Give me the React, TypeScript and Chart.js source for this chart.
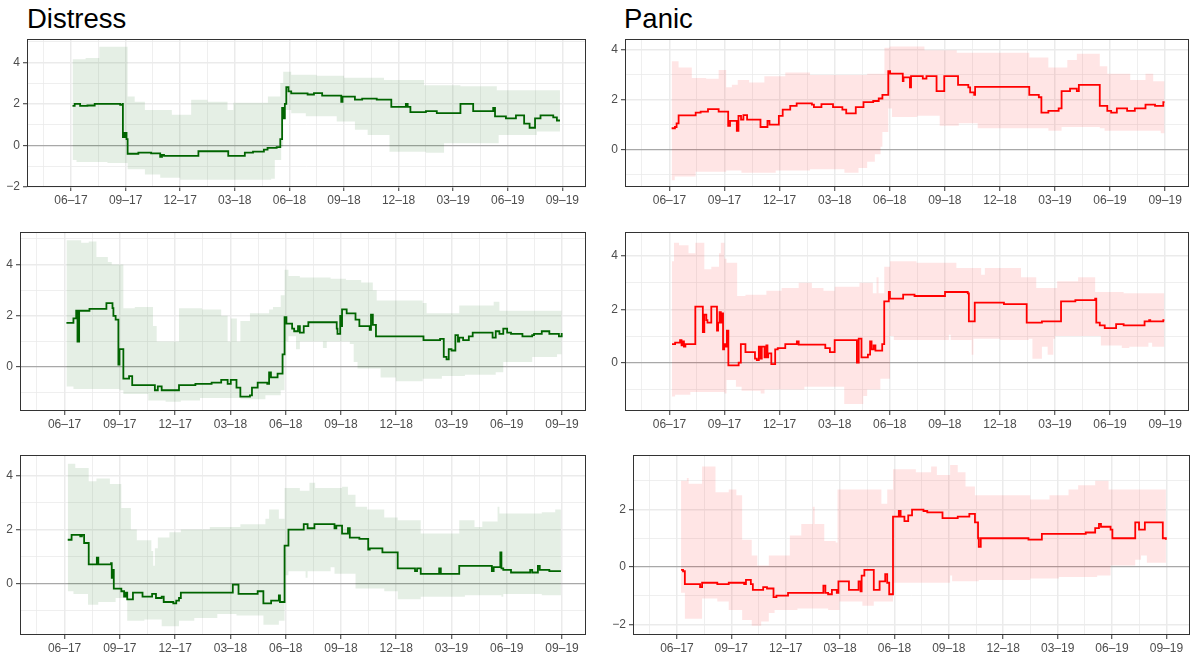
import React, { useEffect, useRef } from "react";
import { Chart, registerables } from "chart.js";

Chart.register(...registerables);
Chart.defaults.font.family = "'Liberation Sans', Arial, Helvetica, sans-serif";

type Pt = [number, number];

// x values are months since June 2017
const xTickMonths = [0, 3, 6, 9, 12, 15, 18, 21, 24, 27];
const xTickLabels = ["06–17", "09–17", "12–17", "03–18", "06–18", "09–18", "12–18", "03–19", "06–19", "09–19"];
const columnTitles = ["Distress", "Panic"];

// ---------- Distress, row 1 ----------
const distressLine1: Pt[] = [[0.08,1.9],[0.2,2.0],[0.5,1.9],[0.9,1.92],[1.3,2.0],[2.7,1.95],[2.83,2.0],[2.85,0.4],[2.95,0.6],[3.05,0.3],[3.11,-0.4],[3.5,-0.4],[3.7,-0.35],[4.4,-0.38],[4.9,-0.55],[5.0,-0.45],[5.11,-0.5],[7.0,-0.28],[8.64,-0.5],[9.55,-0.35],[10.0,-0.3],[10.6,-0.2],[10.8,-0.12],[11.3,-0.08],[11.5,0.3],[11.6,1.8],[11.65,1.3],[11.75,2.0],[11.83,2.8],[11.95,2.6],[12.1,2.5],[13.0,2.45],[13.35,2.52],[13.8,2.4],[14.85,2.1],[14.92,2.35],[15.6,2.2],[16.0,2.25],[16.8,2.2],[17.6,1.85],[18.4,2.0],[18.5,1.85],[18.65,1.6],[19.5,1.65],[20.1,1.55],[21.4,2.0],[22.1,1.65],[23.2,1.8],[23.3,1.4],[23.9,1.3],[24.45,1.45],[24.9,1.05],[25.2,0.85],[25.5,1.3],[25.8,1.45],[26.5,1.35],[26.7,1.2],[26.87,1.2]];
const distressUpper1: Pt[] = [[0.08,4.14],[0.8,4.2],[1.55,4.75],[3.11,2.35],[3.5,2.1],[4.06,1.7],[5.54,1.47],[6.6,2.2],[7.5,2.1],[8.6,1.7],[8.92,2.05],[10.82,2.35],[11.5,3.0],[11.66,3.55],[12.1,3.4],[13.5,3.35],[15.0,3.25],[17.2,3.15],[19.4,2.9],[21.4,2.85],[23.4,2.65],[26.87,2.6]];
const distressLower1: Pt[] = [[0.08,-0.7],[0.3,-0.8],[2.0,-0.85],[3.11,-1.15],[4.06,-1.4],[4.9,-1.55],[6.0,-1.65],[11.0,-1.6],[11.2,-0.7],[11.55,-0.05],[11.66,1.7],[12.1,1.55],[12.9,1.4],[14.6,1.15],[15.6,0.75],[16.3,0.5],[17.5,-0.3],[19.5,-0.35],[20.5,0.1],[23.5,0.5],[25.6,0.67],[26.87,0.62]];

// ---------- Panic, row 1 ----------
const panicLine1: Pt[] = [[0.12,0.85],[0.3,0.9],[0.39,1.05],[0.5,1.37],[1.43,1.48],[1.7,1.52],[2.1,1.62],[2.68,1.52],[3.2,0.95],[3.3,1.15],[3.67,0.75],[3.76,1.35],[3.9,1.2],[4.03,1.38],[4.23,1.2],[4.96,0.9],[5.34,1.15],[5.45,1.0],[5.96,1.35],[6.17,1.6],[6.58,1.75],[6.93,1.85],[7.76,1.8],[7.87,1.7],[8.28,1.82],[8.91,1.7],[9.42,1.6],[9.63,1.45],[10.15,1.7],[10.57,1.9],[11.1,1.95],[11.4,2.05],[11.6,2.2],[11.92,3.15],[12.02,3.05],[12.71,2.75],[12.75,2.9],[13.1,2.5],[13.16,2.95],[13.8,2.85],[14.0,2.95],[14.55,2.35],[14.97,2.95],[15.72,2.6],[16.28,2.5],[16.38,2.3],[16.6,2.2],[16.65,2.52],[19.6,2.2],[20.12,2.1],[20.26,1.48],[20.64,1.55],[21.2,1.65],[21.36,2.35],[21.82,2.45],[22.19,2.35],[22.3,2.6],[23.44,1.75],[23.85,1.55],[24.06,1.48],[24.37,1.65],[24.93,1.55],[25.35,1.65],[25.93,1.8],[26.45,1.75],[26.9,1.9],[26.97,1.9]];
const panicUpper1: Pt[] = [[0.12,3.55],[0.5,3.3],[1.22,2.88],[2.0,2.85],[2.68,3.2],[3.09,2.5],[3.4,2.6],[3.72,2.8],[4.34,2.7],[5.17,2.95],[6.31,3.1],[7.66,3.0],[10.77,3.05],[11.71,4.1],[12.0,4.15],[13.89,4.0],[15.65,3.9],[19.6,3.7],[20.64,3.3],[21.67,3.6],[22.19,3.85],[23.44,3.35],[23.85,3.05],[25.1,2.8],[25.93,3.05],[26.35,2.75],[26.97,2.7]];
const panicLower1: Pt[] = [[0.12,-1.25],[0.29,-1.1],[1.43,-0.9],[3.09,-0.85],[3.92,-0.95],[5.79,-0.85],[7.66,-0.8],[9.53,-0.95],[10.3,-0.75],[10.77,-0.5],[11.19,-0.2],[11.5,0.1],[11.6,0.7],[11.92,1.65],[12.12,1.3],[13.5,1.35],[14.72,0.95],[15.76,1.05],[16.79,0.85],[20.64,0.75],[21.36,0.9],[23.44,0.85],[23.7,0.75],[26.76,0.65],[26.97,0.65]];

// ---------- Distress, row 2 ----------
const distressLine2: Pt[] = [[0.1,1.73],[0.48,1.9],[0.63,2.2],[0.7,1.0],[0.79,2.2],[1.35,2.27],[2.27,2.5],[2.6,2.3],[2.65,2.0],[2.77,1.85],[2.92,0.1],[2.98,0.7],[3.19,-0.45],[3.5,-0.35],[3.67,-0.7],[4.9,-0.9],[5.06,-0.75],[5.27,-0.9],[6.21,-0.7],[7.1,-0.65],[7.98,-0.6],[8.5,-0.5],[8.85,-0.65],[9.02,-0.5],[9.33,-0.8],[9.54,-1.15],[10.06,-1.1],[10.17,-0.8],[10.48,-0.6],[11.0,-0.65],[11.1,-0.2],[11.2,-0.4],[11.56,-0.25],[11.83,0.5],[11.94,1.95],[12.04,1.7],[12.35,1.5],[12.46,1.4],[12.67,1.6],[12.77,1.35],[12.98,1.6],[13.23,1.75],[14.77,1.5],[14.81,1.3],[14.96,2.0],[15.0,1.6],[15.06,2.25],[15.31,2.1],[15.79,1.85],[16.0,1.6],[16.56,1.45],[16.63,2.05],[16.73,1.65],[16.9,1.2],[19.48,1.05],[20.38,1.1],[20.58,0.4],[20.73,0.3],[20.85,0.7],[21.0,0.65],[21.21,1.25],[21.35,1.0],[21.42,1.15],[21.63,1.05],[21.94,1.2],[22.15,1.35],[23.23,1.15],[23.4,1.4],[23.6,1.3],[23.81,1.5],[24.02,1.35],[24.23,1.3],[24.85,1.2],[25.38,1.25],[25.48,1.3],[25.9,1.4],[26.31,1.3],[26.83,1.2],[26.98,1.33]];
const distressUpper2: Pt[] = [[0.1,4.95],[0.9,4.85],[1.31,4.9],[1.73,4.3],[2.35,4.1],[2.56,4.0],[3.19,2.3],[3.81,2.35],[4.8,1.6],[5.0,1.0],[6.21,2.3],[7.46,2.25],[8.5,2.0],[8.85,1.0],[9.02,1.9],[9.35,1.0],[9.54,1.8],[10.06,2.1],[11.1,2.25],[11.31,2.35],[11.73,2.8],[11.94,3.8],[12.15,3.55],[12.77,3.5],[14.44,3.45],[15.27,3.4],[16.1,3.3],[16.73,3.0],[16.94,2.6],[19.44,2.5],[19.65,2.1],[21.42,2.4],[23.29,2.55],[23.6,2.2],[26.98,2.2]];
const distressLower2: Pt[] = [[0.1,-0.75],[0.48,-0.85],[2.98,-0.9],[3.19,-1.05],[4.54,-1.3],[5.48,-1.35],[6.31,-1.3],[7.35,-1.2],[9.54,-1.25],[10.9,-1.1],[11.73,-0.9],[11.94,1.0],[12.15,1.2],[12.56,0.7],[12.77,1.0],[14.02,0.75],[14.23,1.0],[15.48,0.9],[15.69,0.2],[15.9,-0.05],[17.15,-0.4],[17.98,-0.55],[19.44,-0.45],[20.48,-0.35],[21.73,-0.3],[23.4,-0.2],[23.81,0.2],[25.38,0.4],[26.73,0.5],[26.98,0.5]];

// ---------- Panic, row 2 ----------
const panicLine2: Pt[] = [[0.14,0.7],[0.31,0.75],[0.58,0.85],[0.66,0.65],[0.72,0.8],[0.79,0.6],[0.87,0.7],[1.41,2.1],[1.82,1.15],[1.9,1.8],[2.01,1.6],[2.07,1.5],[2.28,2.1],[2.59,1.2],[2.65,1.5],[2.73,1.9],[2.8,1.5],[2.86,1.85],[2.92,0.5],[2.98,0.7],[3.06,0.6],[3.13,1.2],[3.21,-0.1],[3.77,0.0],[3.89,0.7],[4.14,0.4],[4.66,0.15],[4.76,0.1],[4.87,0.6],[4.97,0.15],[5.03,0.6],[5.18,0.2],[5.28,0.65],[5.34,0.2],[5.38,0.35],[5.55,-0.05],[5.76,0.5],[5.9,0.55],[6.31,0.7],[6.94,0.8],[7.04,0.68],[8.49,0.55],[8.74,0.4],[9.0,0.85],[10.21,0.0],[10.31,0.9],[10.46,0.2],[10.81,0.3],[10.93,0.8],[11.01,0.5],[11.12,0.65],[11.22,0.45],[11.59,0.7],[11.7,2.3],[11.95,2.65],[12.01,2.4],[12.73,2.55],[13.35,2.5],[15.01,2.65],[16.25,2.6],[16.31,1.55],[16.63,2.25],[18.22,2.2],[19.46,1.5],[20.29,1.55],[21.33,2.3],[22.11,2.35],[23.19,2.4],[23.25,1.5],[23.44,1.4],[23.71,1.3],[24.33,1.45],[24.74,1.4],[25.88,1.55],[26.13,1.6],[26.19,1.55],[26.9,1.6],[26.96,1.6]];
const panicUpper2: Pt[] = [[0.14,3.8],[0.25,4.5],[0.52,4.4],[1.04,4.1],[1.41,4.5],[1.9,3.5],[2.28,3.6],[2.7,4.1],[2.8,4.5],[3.0,3.9],[3.11,3.75],[3.69,2.5],[4.14,2.55],[5.28,2.7],[6.11,2.8],[7.04,3.0],[7.76,2.8],[8.39,2.7],[9.0,2.85],[10.35,3.0],[11.08,2.6],[11.28,3.2],[11.39,2.6],[11.7,3.6],[12.01,3.8],[13.46,3.75],[15.63,3.55],[16.98,3.3],[17.18,3.55],[19.15,3.2],[19.98,2.8],[21.12,3.05],[22.26,3.2],[23.19,2.65],[24.74,2.6],[26.96,2.55]];
const panicLower2: Pt[] = [[0.14,-1.27],[0.31,-1.2],[1.14,-1.1],[3.0,-1.15],[3.11,-0.65],[3.62,-0.9],[3.93,-1.05],[4.97,-1.15],[5.18,-1.0],[7.35,-0.9],[9.52,-1.55],[10.56,-1.25],[10.77,-1.0],[11.49,-0.6],[12.01,1.0],[12.22,0.85],[15.22,1.05],[15.32,0.85],[16.46,0.3],[16.56,0.9],[18.01,0.85],[19.57,0.9],[19.77,0.15],[20.29,0.6],[20.6,0.3],[20.91,0.9],[21.01,1.0],[23.5,0.65],[24.64,0.55],[25.05,0.6],[26.09,0.75],[26.29,0.6],[26.96,0.7]];

// ---------- Distress, row 3 ----------
const distressLine3: Pt[] = [[0.17,1.62],[0.38,1.8],[0.85,1.75],[0.94,1.8],[1.06,1.5],[1.31,0.7],[1.75,0.95],[1.83,0.7],[2.52,0.75],[2.56,0.2],[2.6,0.5],[2.67,-0.2],[3.08,-0.3],[3.23,-0.5],[3.33,-0.35],[3.4,-0.6],[3.71,-0.35],[4.23,-0.5],[4.75,-0.4],[4.96,-0.55],[5.27,-0.5],[5.38,-0.7],[5.9,-0.75],[6.06,-0.65],[6.21,-0.55],[6.31,-0.35],[9.13,-0.05],[9.44,-0.4],[10.48,-0.3],[10.79,-0.75],[11.21,-0.65],[11.63,-0.45],[11.69,-0.7],[11.94,1.4],[12.15,2.0],[12.98,2.2],[13.19,2.05],[13.56,2.2],[14.65,2.05],[14.75,2.15],[15.06,1.85],[15.38,2.05],[15.48,1.7],[16.0,1.65],[16.48,1.25],[16.56,1.3],[17.25,1.15],[18.08,0.55],[19.02,0.45],[19.13,0.55],[19.33,0.35],[20.33,0.55],[20.42,0.35],[21.42,0.65],[23.19,0.45],[23.29,0.6],[23.65,1.15],[23.71,0.55],[23.81,0.5],[24.23,0.4],[25.27,0.5],[25.38,0.4],[25.69,0.65],[25.79,0.5],[26.31,0.45],[26.94,0.45]];
const distressUpper3: Pt[] = [[0.17,4.45],[0.58,4.3],[1.31,3.8],[1.73,3.9],[2.46,3.7],[3.08,2.8],[3.6,2.0],[3.92,1.6],[4.71,1.2],[4.81,0.65],[4.9,1.3],[5.06,1.7],[5.69,1.9],[6.31,2.0],[7.88,2.1],[9.54,2.2],[10.9,2.4],[11.1,2.75],[11.63,2.4],[11.94,3.55],[12.77,3.45],[13.29,3.75],[13.6,3.55],[15.06,3.6],[15.38,3.3],[15.79,2.85],[16.42,2.75],[17.35,2.45],[18.08,2.35],[19.33,1.85],[21.42,2.35],[22.25,2.1],[22.67,2.3],[23.5,2.85],[23.6,2.6],[25.9,2.65],[26.63,2.75],[26.94,2.9]];
const distressLower3: Pt[] = [[0.17,-0.3],[0.48,-0.4],[1.27,-0.8],[1.83,-0.7],[2.77,-0.55],[3.4,-1.4],[4.33,-1.35],[5.27,-1.6],[6.21,-1.4],[7.04,-1.3],[8.29,-1.15],[9.33,-1.2],[10.79,-1.55],[11.63,-1.4],[11.94,0.3],[12.15,0.45],[13.08,0.2],[13.19,0.45],[14.44,0.6],[14.65,0.35],[15.79,-0.2],[17.35,-0.3],[18.08,-0.6],[19.33,-0.5],[21.73,-0.45],[23.71,-0.5],[23.81,-0.4],[25.9,-0.45],[26.94,-0.45]];

// ---------- Panic, row 3 ----------
const panicLine3: Pt[] = [[0.23,-0.1],[0.34,-0.15],[0.44,-0.6],[1.28,-0.7],[1.39,-0.55],[2.23,-0.6],[2.86,-0.55],[3.71,-0.6],[3.81,-0.45],[4.08,-0.6],[4.19,-0.8],[4.76,-0.7],[4.97,-0.75],[5.33,-1.05],[5.49,-1.0],[6.13,-0.9],[8.08,-0.65],[8.19,-0.9],[8.34,-0.95],[8.55,-0.8],[8.82,-0.9],[8.91,-0.5],[9.49,-0.8],[10.02,-0.5],[10.13,-0.85],[10.19,-0.3],[10.34,-0.1],[10.86,-0.8],[11.18,-0.5],[11.49,-0.25],[11.6,-0.55],[11.71,-0.95],[11.92,1.75],[12.24,1.95],[12.34,1.75],[12.55,1.6],[12.76,1.8],[12.97,2.0],[13.6,1.95],[13.81,1.9],[14.65,1.7],[15.49,1.75],[16.13,1.85],[16.44,1.55],[16.61,1.0],[16.65,0.7],[16.76,1.0],[19.39,0.95],[20.13,1.15],[22.55,1.2],[23.07,1.35],[23.28,1.5],[23.39,1.4],[23.92,1.3],[24.02,1.0],[25.28,1.55],[25.49,1.3],[25.81,1.55],[26.8,1.0],[26.97,0.95]];
const panicUpper3: Pt[] = [[0.23,3.0],[0.55,3.1],[0.65,2.9],[1.39,3.5],[2.13,2.6],[2.86,2.7],[3.28,2.5],[3.6,0.95],[4.13,0.4],[4.44,0.05],[5.07,0.4],[6.23,1.1],[6.86,1.5],[7.49,2.1],[7.6,1.5],[8.13,0.9],[8.76,0.85],[8.86,2.7],[11.28,2.2],[11.6,2.7],[11.92,3.4],[13.18,3.3],[14.02,3.5],[14.34,3.2],[15.07,3.55],[15.49,3.3],[15.92,2.8],[16.44,2.5],[19.49,2.35],[20.55,2.5],[21.6,2.7],[22.13,2.85],[23.07,3.0],[23.81,2.7],[26.97,2.7]];
const panicLower3: Pt[] = [[0.23,-0.9],[0.44,-1.8],[1.39,-1.1],[2.23,-1.2],[2.86,-1.5],[3.6,-1.85],[4.13,-2.05],[4.65,-1.9],[5.07,-1.6],[5.39,-1.5],[6.65,-1.45],[8.34,-1.5],[8.97,-1.2],[10.23,-1.35],[10.86,-1.2],[11.92,-0.55],[15.07,-0.3],[15.18,-0.5],[16.65,-0.45],[19.49,-0.4],[21.07,-0.35],[23.18,-0.3],[23.92,0.05],[25.28,0.25],[25.6,0.4],[25.92,0.15],[26.97,0.15]];

// ---------- layout / style ----------
const X_MIN = -2.42;
const X_MAX = 28.3;
const GREEN = "#006400";
const GREEN_FILL = "rgba(0,100,0,0.1)";
const RED = "#FF0000";
const RED_FILL = "rgba(255,0,0,0.1)";
const FONT = "'Liberation Sans', Arial, Helvetica, sans-serif";

type PanelCfg = {
  line: Pt[]; upper: Pt[]; lower: Pt[];
  color: string; fill: string;
  yMin: number; yMax: number;
  l: number; t: number; r: number; b: number; col: number;
};

const panels: PanelCfg[] = [
  { line: distressLine1, upper: distressUpper1, lower: distressLower1, color: GREEN, fill: GREEN_FILL, yMin: -2.0, yMax: 5.12, l: 27, t: 39, r: 586, b: 187, col: 0 },
  { line: panicLine1, upper: panicUpper1, lower: panicLower1, color: RED, fill: RED_FILL, yMin: -1.52, yMax: 4.45, l: 625, t: 39, r: 1189, b: 187, col: 1 },
  { line: distressLine2, upper: distressUpper2, lower: distressLower2, color: GREEN, fill: GREEN_FILL, yMin: -1.71, yMax: 5.27, l: 20, t: 232, r: 586, b: 411, col: 0 },
  { line: panicLine2, upper: panicUpper2, lower: panicLower2, color: RED, fill: RED_FILL, yMin: -1.81, yMax: 4.9, l: 625, t: 232, r: 1189, b: 411, col: 1 },
  { line: distressLine3, upper: distressUpper3, lower: distressLower3, color: GREEN, fill: GREEN_FILL, yMin: -1.93, yMax: 4.78, l: 20, t: 455, r: 586, b: 635, col: 0 },
  { line: panicLine3, upper: panicUpper3, lower: panicLower3, color: RED, fill: RED_FILL, yMin: -2.37, yMax: 3.9, l: 633, t: 455, r: 1190, b: 635, col: 1 },
];

const COL_X0 = [0, 598];
const PAD_T = 4;
const PAD_R = 4;
const PAD_B = 20;

const toXY = (pts: Pt[]) => pts.map(([x, y]) => ({ x, y }));

const xLabelFor = (v: number) => {
  const i = xTickMonths.findIndex((m) => Math.abs(m - v) < 1e-6);
  return i >= 0 ? xTickLabels[i] : "";
};
const isMajorX = (v: number) => xTickMonths.some((m) => Math.abs(m - v) < 1e-6);
const isMajorY = (v: number) => Math.abs(Math.round(v)) % 2 === 0;

const framePlugin = {
  id: "panelFrame",
  afterDraw(chart: any) {
    const { ctx, chartArea: a } = chart;
    ctx.save();
    ctx.strokeStyle = "#333333";
    ctx.lineWidth = 1;
    ctx.strokeRect(a.left + 0.5, a.top + 0.5, a.right - a.left - 1, a.bottom - a.top - 1);
    ctx.restore();
  },
};

const zeroPad = (s: any) => {
  s.paddingTop = 0;
  s.paddingBottom = 0;
  s.paddingLeft = 0;
  s.paddingRight = 0;
};

function Panel({ cfg }: { cfg: PanelCfg }) {
  const ref = useRef<HTMLCanvasElement | null>(null);
  const x0 = COL_X0[cfg.col];
  const top = cfg.t - PAD_T;
  const padL = cfg.l - x0;
  const width = cfg.r + PAD_R - x0;
  const height = cfg.b + PAD_B - top;

  useEffect(() => {
    if (!ref.current) return;
    const chart = new Chart(ref.current, {
      type: "line",
      data: {
        datasets: [
          { data: toXY(cfg.line), borderColor: cfg.color, borderWidth: 1.8, stepped: "before", pointRadius: 0, fill: false, order: 0 },
          { data: toXY(cfg.lower), borderColor: "rgba(0,0,0,0)", borderWidth: 0, stepped: "before", pointRadius: 0, fill: false, order: 2 },
          { data: toXY(cfg.upper), borderColor: "rgba(0,0,0,0)", borderWidth: 0, stepped: "before", pointRadius: 0, fill: 1, backgroundColor: cfg.fill, order: 1 },
        ] as any,
      },
      options: {
        responsive: false,
        animation: false,
        devicePixelRatio: 1,
        layout: { padding: { left: 0, right: PAD_R, top: PAD_T, bottom: 0 } },
        plugins: { legend: { display: false }, tooltip: { enabled: false }, title: { display: false } },
        scales: {
          x: {
            type: "linear",
            min: X_MIN,
            max: X_MAX,
            bounds: "data",
            afterBuildTicks: (s: any) => {
              const t: { value: number }[] = [];
              for (let k = -2; k <= 19; k++) {
                const v = k * 1.5;
                if (v >= X_MIN && v <= X_MAX) t.push({ value: v });
              }
              s.ticks = t;
            },
            afterFit: (s: any) => { s.height = PAD_B; zeroPad(s); },
            ticks: {
              autoSkip: false, maxRotation: 0, minRotation: 0, padding: 2,
              color: "#4D4D4D", font: { size: 12, family: FONT },
              callback: (v: any) => xLabelFor(Number(v)),
            },
            grid: {
              color: "#EBEBEB",
              lineWidth: (c: any) => (isMajorX(c.tick?.value) ? 1.5 : 0.8),
              drawTicks: true, tickLength: 4, tickWidth: 1,
              tickColor: (c: any) => (isMajorX(c.tick?.value) ? "#333333" : "rgba(0,0,0,0)"),
            },
            border: { display: false },
          },
          y: {
            type: "linear",
            min: cfg.yMin,
            max: cfg.yMax,
            bounds: "data",
            afterBuildTicks: (s: any) => {
              const t: { value: number }[] = [];
              for (let v = Math.ceil(cfg.yMin); v <= Math.floor(cfg.yMax); v++) t.push({ value: v });
              s.ticks = t;
            },
            afterFit: (s: any) => { s.width = padL; zeroPad(s); },
            ticks: {
              autoSkip: false, padding: 3,
              color: "#4D4D4D", font: { size: 12, family: FONT },
              callback: (v: any) => {
                const n = Math.round(Number(v));
                if (!isMajorY(n)) return "";
                return n < 0 ? "\u2212" + Math.abs(n) : String(n);
              },
            },
            grid: {
              color: (c: any) => (c.tick?.value === 0 ? "#A8A8A8" : "#EBEBEB"),
              lineWidth: (c: any) => (c.tick?.value === 0 ? 1.3 : isMajorY(c.tick?.value) ? 1.5 : 0.8),
              drawTicks: true, tickLength: 4, tickWidth: 1,
              tickColor: (c: any) => (isMajorY(c.tick?.value) ? "#333333" : "rgba(0,0,0,0)"),
            },
            border: { display: false },
          },
        },
      } as any,
      plugins: [framePlugin],
    });
    return () => chart.destroy();
  }, []);

  return (
    <div style={{ position: "absolute", left: x0, top, width, height }}>
      <canvas ref={ref} width={width} height={height} style={{ display: "block", width, height }} />
    </div>
  );
}

export default function App() {
  return (
    <div style={{ position: "fixed", left: 0, top: 0, width: 1193, height: 655, background: "#fff", overflow: "hidden" }}>
      <div style={{ position: "absolute", left: 27, top: 5, fontFamily: FONT, fontSize: 27.5, lineHeight: "28px", color: "#000" }}>{columnTitles[0]}</div>
      <div style={{ position: "absolute", left: 624, top: 5, fontFamily: FONT, fontSize: 27.5, lineHeight: "28px", color: "#000" }}>{columnTitles[1]}</div>
      {panels.map((p, i) => (
        <Panel key={i} cfg={p} />
      ))}
    </div>
  );
}
